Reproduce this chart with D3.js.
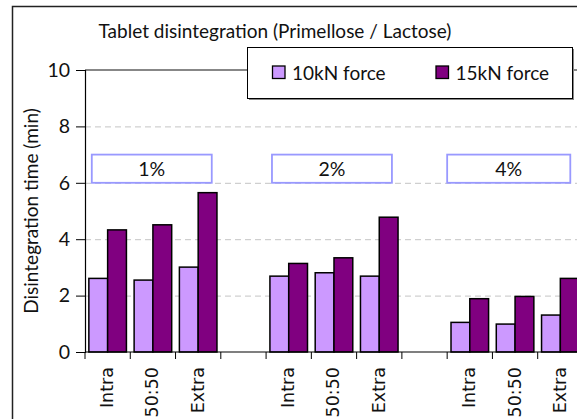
<!DOCTYPE html>
<html><head><meta charset="utf-8">
<script src="https://cdn.jsdelivr.net/npm/d3@7/dist/d3.min.js"></script>
<style>body{margin:0;background:#fff}svg{display:block}</style>
</head><body>
<script>
const categories = ["Intra","50:50","Extra","","Intra","50:50","Extra","","Intra","50:50","Extra"];
const force10 = [2.61,2.55,3.01,null,2.69,2.81,2.69,null,1.05,0.99,1.31];
const force15 = [4.33,4.51,5.65,null,3.14,3.34,4.78,null,1.89,1.97,2.61];
const seriesNames = ["10kN force","15kN force"];
const yTicks = [0,2,4,6,8,10];
const groupLabels = ["1%","2%","4%"];
const groupStart = [0.15,4.13,8.0];
const groupEnd = [2.8,6.78,10.72];
const groupLow = [6,6,6], groupHigh = [7,7,7];

const W=577,H=419;
const colors=["#cc99ff","#800080"];
const svg=d3.select("body").append("svg").attr("width",W).attr("height",H);
const mainFont="Lato, 'Open Sans', sans-serif";

// outer frame
svg.append("rect").attr("x",12.5).attr("y",6.5).attr("width",W).attr("height",H)
  .attr("fill","none").attr("stroke","#222").attr("stroke-width",1.5);

const x0=85, yBase=352, yTop=70;
const band=45.27;
const x=d3.scaleBand().domain(d3.range(categories.length)).range([x0,x0+band*categories.length]).padding(0);
const xc=d3.scaleLinear().domain([0,categories.length]).range([x0,x0+band*categories.length]);
const y=d3.scaleLinear().domain([0,10]).range([yBase,yTop]);

// gridlines
svg.append("g").selectAll("line").data(yTicks.filter(t=>t>0&&t<10)).join("line")
  .attr("x1",x0).attr("x2",W).attr("y1",d=>y(d)+0.5).attr("y2",d=>y(d)+0.5)
  .attr("stroke","#c4c4c4").attr("stroke-dasharray","6,4").attr("stroke-width",1);
// top border
svg.append("line").attr("x1",x0).attr("x2",W).attr("y1",y(10)).attr("y2",y(10))
  .attr("stroke","#111").attr("stroke-width",1.2);

// bars
const bw=band*0.415, off=(band-2*bw)/2;
[force10,force15].forEach((s,si)=>{
  svg.append("g").selectAll("rect").data(s.map((v,i)=>({v,i})).filter(d=>d.v!=null)).join("rect")
    .attr("x",d=>x(d.i)+off+si*bw).attr("width",bw)
    .attr("y",d=>y(d.v)).attr("height",d=>y(0)-y(d.v))
    .attr("fill",colors[si]).attr("stroke","#000").attr("stroke-width",1.5);
});

// y axis
const yAxis=svg.append("g").attr("transform",`translate(${x0},0)`)
  .call(d3.axisLeft(y).tickValues(yTicks).tickSize(9).tickPadding(6).tickFormat(d3.format("d")));
yAxis.select(".domain").attr("stroke","#000").attr("stroke-width",1.2);
yAxis.selectAll(".tick line").attr("stroke","#000");
yAxis.selectAll("text").attr("font-family",mainFont).attr("font-size",19.5).attr("fill","#111");

// x axis
const xAxis=svg.append("g").attr("transform",`translate(0,${yBase})`);
xAxis.append("line").attr("x1",x0).attr("x2",W).attr("stroke","#000").attr("stroke-width",1.2);
xAxis.selectAll("line.tk").data(d3.range(categories.length+1)).join("line").attr("class","tk")
  .attr("x1",d=>xc(d)).attr("x2",d=>xc(d)).attr("y1",0).attr("y2",7).attr("stroke","#000");
xAxis.selectAll("text").data(categories.map((c,i)=>({c,i})).filter(d=>d.c)).join("text")
  .attr("transform",d=>`translate(${x(d.i)+band/2+5.5},15) rotate(-90)`)
  .attr("text-anchor","end").attr("font-family","'DejaVu Sans', sans-serif").attr("font-size",17.5)
  .attr("fill","#111").text(d=>d.c);

// group annotation boxes
const gb=svg.append("g").selectAll("g").data(groupLabels.map((l,i)=>({l,i}))).join("g");
gb.append("rect").attr("x",d=>xc(groupStart[d.i])).attr("width",d=>xc(groupEnd[d.i])-xc(groupStart[d.i]))
  .attr("y",d=>y(groupHigh[d.i])).attr("height",d=>y(groupLow[d.i])-y(groupHigh[d.i]))
  .attr("fill","#fff").attr("stroke","#9999ff").attr("stroke-width",1.8);
gb.append("text").attr("x",d=>(xc(groupStart[d.i])+xc(groupEnd[d.i]))/2)
  .attr("y",d=>(y(groupHigh[d.i])+y(groupLow[d.i]))/2+7)
  .attr("text-anchor","middle").attr("font-family",mainFont).attr("font-size",19.5).attr("fill","#111").text(d=>d.l);

// title
svg.append("text").attr("x",275).attr("y",38).attr("text-anchor","middle")
  .attr("font-family",mainFont).attr("font-size",19).attr("fill","#111")
  .text("Tablet disintegration (Primellose / Lactose)");
// y title
svg.append("text").attr("transform","translate(38,211) rotate(-90)").attr("text-anchor","middle")
  .attr("font-family",mainFont).attr("font-size",19).attr("fill","#111").text("Disintegration time (min)");

// legend
const lg=svg.append("g");
lg.append("rect").attr("x",249).attr("y",49).attr("width",325).attr("height",51).attr("fill","#888");
lg.append("rect").attr("x",247.5).attr("y",47.5).attr("width",325).attr("height",51)
  .attr("fill","#fff").attr("stroke","#000").attr("stroke-width",1);
const lx=[272.5,436];
seriesNames.forEach((n,i)=>{
  lg.append("rect").attr("x",lx[i]).attr("y",66).attr("width",12.5).attr("height",12.5)
    .attr("fill",colors[i]).attr("stroke","#000").attr("stroke-width",1.3);
  lg.append("text").attr("x",lx[i]+19.5).attr("y",79.5).attr("font-family",mainFont)
    .attr("font-size",19).attr("fill","#111").text(n);
});
</script>
</body></html>
